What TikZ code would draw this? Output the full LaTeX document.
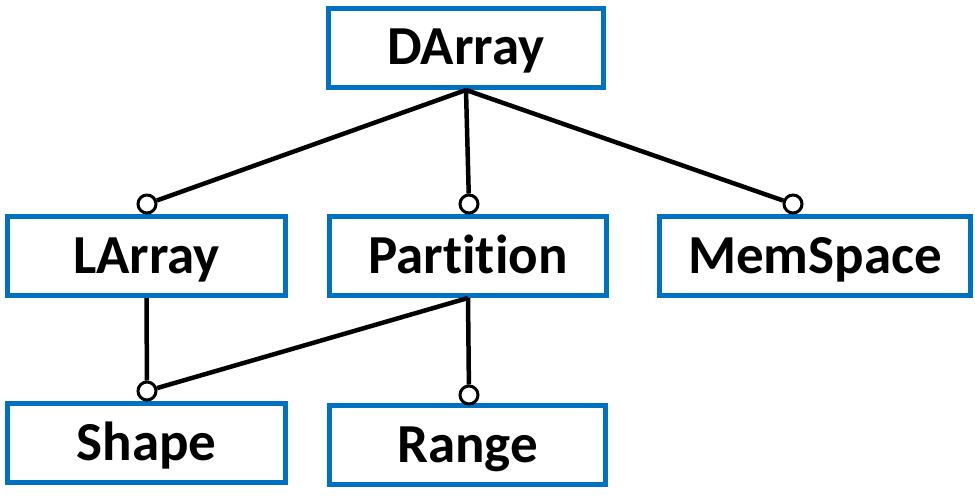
\documentclass[tikz,border=0pt]{standalone}
\usepackage{fontspec}
\setmainfont{Carlito}[Ligatures=NoCommon]
\definecolor{boxblue}{RGB}{0,112,192}
\begin{document}
\begin{tikzpicture}[x=1pt,y=-1pt,
  cls/.style={draw=boxblue,line width=5pt,rectangle,inner sep=0pt,
    minimum height=79pt,text height=44pt,text depth=10pt,
    font=\fontsize{55}{55}\selectfont\bfseries},
  oc/.style={circle,draw=black,fill=white,line width=3pt,minimum size=18pt,inner sep=0pt},
  conn/.style={draw=black,line width=4.5pt}]
\useasboundingbox (0,0) rectangle (975,497);
\node[cls,minimum width=275pt] (darray) at (466,48) {DArray};
\node[cls,minimum width=278pt] (larray) at (146.5,256) {LArray};
\node[cls,minimum width=277pt] (partition) at (468,256) {Partition};
\node[cls,minimum width=311pt] (memspace) at (815,256) {MemSpace};
\node[cls,minimum width=278pt] (shape) at (146.5,443) {Shape};
\node[cls,minimum width=276pt] (range) at (467.5,445) {Range};
\node[oc] (c1) at (147,204) {};
\node[oc] (c2) at (469,204) {};
\node[oc] (c3) at (793,204) {};
\node[oc] (c4) at (147,391) {};
\node[oc] (c5) at (469,395) {};
\draw[conn] (darray.south) -- (c1);
\draw[conn] (darray.south) -- (c2);
\draw[conn] (darray.south) -- (c3);
\draw[conn] (larray.south) -- (c4);
\draw[conn] (partition.south) -- (c4);
\draw[conn] (partition.south) -- (c5);
\end{tikzpicture}
\end{document}
